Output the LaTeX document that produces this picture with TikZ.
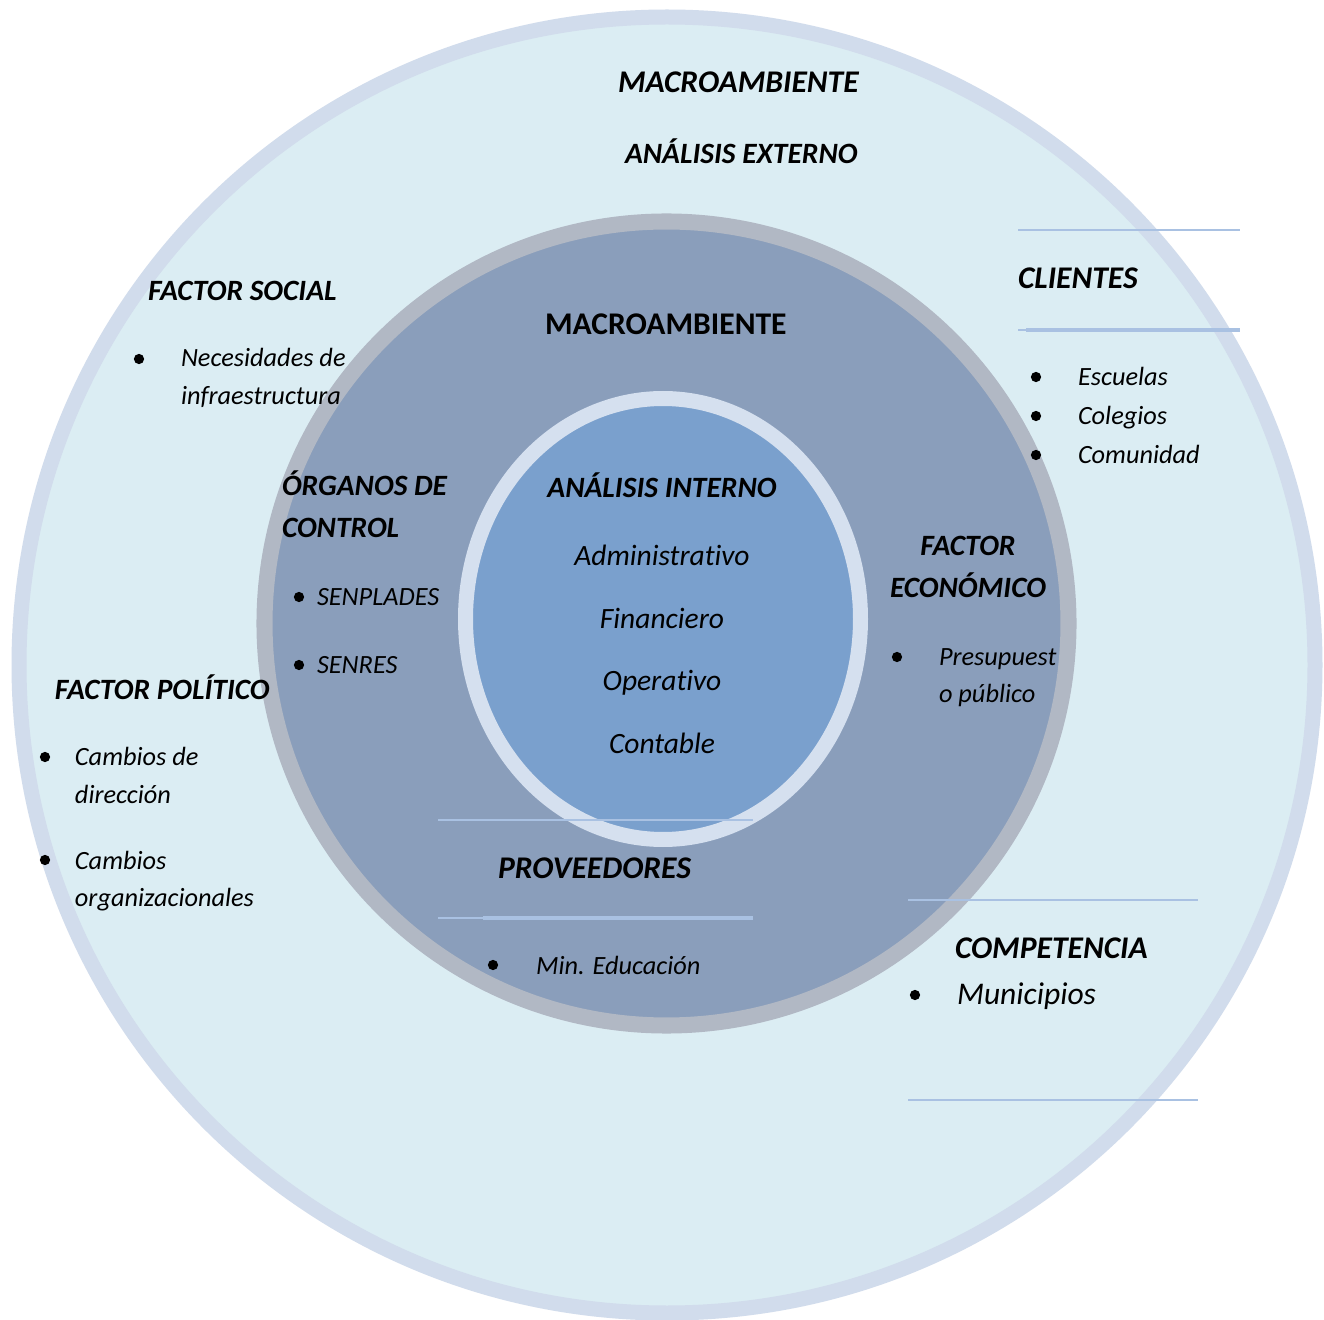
\documentclass[tikz,border=0pt]{standalone}
\usepackage{fontspec}
\setmainfont{Carlito}[Ligatures=NoCommon]
\usetikzlibrary{positioning}

\definecolor{extfill}{HTML}{DBEDF3}
\definecolor{extline}{HTML}{D1DCEC}
\definecolor{midfill}{HTML}{8A9EBB}
\definecolor{midline}{HTML}{B1B8C4}
\definecolor{intfill}{HTML}{7AA0CD}
\definecolor{intline}{HTML}{D5E0EF}
\definecolor{rulecol}{HTML}{A9C1E2}

\begin{document}
\begin{tikzpicture}[
  x=0.38pt, y=-0.38pt,
  every node/.style={inner sep=0pt, outer sep=0pt},
  extring/.style={draw=extline, fill=extfill, line width=5.7pt},
  midring/.style={draw=midline, fill=midfill, line width=6.1pt},
  intring/.style={draw=intline, fill=intfill, line width=5.7pt},
  head/.style={anchor=base west, font=\fontsize{12}{14}\selectfont\bfseries\itshape},
  headsm/.style={anchor=base west, font=\fontsize{11.2}{13}\selectfont\bfseries\itshape},
  headc/.style={headsm, anchor=base},
  item/.style={anchor=base west, font=\fontsize{10}{12}\selectfont\itshape},
  itemc/.style={anchor=base, font=\fontsize{11.2}{13}\selectfont\itshape},
  dot/.style={circle, fill=black, minimum size=3.9pt},
  rule/.style={draw=rulecol, line width=0.8pt},
  thickrule/.style={draw=rulecol, line width=1.4pt},
]
\useasboundingbox[fill=white] (0,0) rectangle (1324,1320);

% the three rings
\draw[extring] (667,665) circle[radius=648];
\draw[midring] (666.5,623.5) circle[radius=402];
\draw[intring] (663,619) ellipse[x radius=197.5, y radius=220.5];

% outer ring titles
\node[head] (macroext) at (618,93) {MACROAMBIENTE};
\node[headsm] (anaext) at (625,164) {ANÁLISIS EXTERNO};

% factor social
\node[headsm] (social) at (148,301) {FACTOR SOCIAL};
\node[dot] (d-soc) at (139,359) {};
\node[item] (soc1) at (181,367) {Necesidades de};
\node[item] (soc2) at (181,405) {infraestructura};

% clientes
\coordinate (cl1a) at (1018,230); \coordinate (cl1b) at (1240,230);
\coordinate (cl2a) at (1018,330); \coordinate (cl2b) at (1240,330);
\coordinate (cl2c) at (1026,330);
\draw[rule] (cl1a) -- (cl1b);
\draw[rule] (cl2a) -- (cl2b);
\draw[thickrule] (cl2c) -- (cl2b);
\node[head] (clientes) at (1018,289) {CLIENTES};
\node[dot] (d-cl1) at (1036,377) {};
\node[dot] (d-cl2) at (1036,416) {};
\node[dot] (d-cl3) at (1036,455) {};
\node[item] (cl-esc) at (1078,386) {Escuelas};
\node[item] (cl-col) at (1078,425) {Colegios};
\node[item] (cl-com) at (1078,464) {Comunidad};

% middle ring
\node[head, font=\fontsize{12}{14}\selectfont\bfseries] (macromid) at (545,335) {MACROAMBIENTE};
\node[headsm] (org1) at (282,496) {ÓRGANOS DE};
\node[headsm] (org2) at (282,538) {CONTROL};
\node[dot] (d-org1) at (299,597) {};
\node[dot] (d-org2) at (299,665) {};
\node[item] (senplades) at (317,606) {SENPLADES};
\node[item] (senres) at (317,674) {SENRES};

\node[headc] (eco1) at (968,556) {FACTOR};
\node[headc] (eco2) at (968,598) {ECONÓMICO};
\node[dot] (d-eco) at (897,657) {};
\node[item] (eco-p1) at (939,666) {Presupuest};
\node[item] (eco-p2) at (939,703) {o público};

% inner ellipse
\node[headc] (anaint) at (662,498) {ANÁLISIS INTERNO};
\node[itemc] (adm) at (662,566) {Administrativo};
\node[itemc] (fin) at (662,629) {Financiero};
\node[itemc] (ope) at (662,691) {Operativo};
\node[itemc] (con) at (662,754) {Contable};

% factor politico
\node[headsm] (politico) at (55,700) {FACTOR POLÍTICO};
\node[dot] (d-pol1) at (45,757) {};
\node[dot] (d-pol2) at (45,860) {};
\node[item] (pol1a) at (75,766) {Cambios de};
\node[item] (pol1b) at (75,803) {dirección};
\node[item] (pol2a) at (75,869) {Cambios};
\node[item] (pol2b) at (75,906) {organizacionales};

% proveedores
\coordinate (pr1a) at (438,820); \coordinate (pr1b) at (753,820);
\coordinate (pr2a) at (438,918); \coordinate (pr2b) at (753,918);
\coordinate (pr2c) at (483,918);
\draw[rule] (pr1a) -- (pr1b);
\draw[rule] (pr2a) -- (pr2b);
\draw[thickrule] (pr2c) -- (pr2b);
\node[head] (proveedores) at (498,878) {PROVEEDORES};
\node[dot] (d-pr) at (493,965) {};
\node[item] (minedu) at (536,974) {Min. Educación};

% competencia
\coordinate (co1a) at (908,900); \coordinate (co1b) at (1198,900);
\coordinate (co2a) at (908,1100); \coordinate (co2b) at (1198,1100);
\draw[rule] (co1a) -- (co1b);
\draw[rule] (co2a) -- (co2b);
\node[head] (competencia) at (955,958) {COMPETENCIA};
\node[dot] (d-co) at (915,995) {};
\node[item, font=\fontsize{12}{14}\selectfont\itshape] (municipios) at (957,1004) {Municipios};
\end{tikzpicture}
\end{document}
